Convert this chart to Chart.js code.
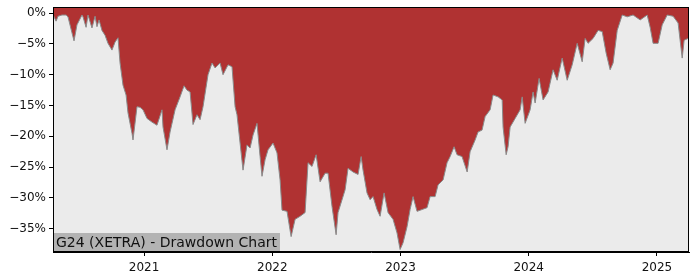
<!DOCTYPE html>
<html>
<head>
<meta charset="utf-8">
<script src="https://cdn.jsdelivr.net/npm/chart.js@4"></script>
<style>
  html, body { margin: 0; padding: 0; background: #fff; }
  #wrap { width: 700px; height: 280px; }
</style>
</head>
<body>
<div id="wrap"><canvas id="ddChart" width="700" height="280"></canvas></div>
<script>
// decimal years
let years = [
  2020.292, 2020.314, 2020.329, 2020.360, 2020.392, 2020.407, 2020.438, 2020.454, 2020.477, 2020.516,
  2020.524, 2020.548, 2020.563, 2020.594, 2020.618, 2020.633, 2020.649, 2020.672, 2020.696, 2020.719,
  2020.750, 2020.774, 2020.797, 2020.813, 2020.836, 2020.860, 2020.875, 2020.906, 2020.914, 2020.945,
  2020.969, 2020.992, 2021.023, 2021.062, 2021.101, 2021.140, 2021.148, 2021.179, 2021.203, 2021.242,
  2021.281, 2021.312, 2021.335, 2021.359, 2021.382, 2021.413, 2021.437, 2021.460, 2021.499, 2021.530,
  2021.554, 2021.593, 2021.616, 2021.655, 2021.686, 2021.710, 2021.725, 2021.749, 2021.772, 2021.803,
  2021.827, 2021.850, 2021.881, 2021.905, 2021.920, 2021.944, 2021.967, 2022.006, 2022.037, 2022.061,
  2022.076, 2022.115, 2022.147, 2022.178, 2022.217, 2022.256, 2022.279, 2022.310, 2022.342, 2022.373,
  2022.412, 2022.435, 2022.466, 2022.498, 2022.513, 2022.568, 2022.591, 2022.630, 2022.669, 2022.693,
  2022.708, 2022.739, 2022.763, 2022.786, 2022.817, 2022.841, 2022.872, 2022.903, 2022.942, 2022.973,
  2022.997, 2023.020, 2023.051, 2023.075, 2023.098, 2023.129, 2023.168, 2023.207, 2023.231, 2023.270,
  2023.293, 2023.332, 2023.363, 2023.387, 2023.418, 2023.441, 2023.480, 2023.520, 2023.543, 2023.582,
  2023.605, 2023.636, 2023.660, 2023.699, 2023.722, 2023.761, 2023.793, 2023.800, 2023.824, 2023.839,
  2023.855, 2023.894, 2023.933, 2023.949, 2023.972, 2024.011, 2024.034, 2024.050, 2024.081, 2024.112,
  2024.151, 2024.190, 2024.222, 2024.261, 2024.300, 2024.339, 2024.378, 2024.417, 2024.440, 2024.463,
  2024.502, 2024.541, 2024.573, 2024.604, 2024.635, 2024.658, 2024.690, 2024.729, 2024.768, 2024.814,
  2024.869, 2024.924, 2024.947, 2024.970, 2025.009, 2025.041, 2025.080, 2025.126, 2025.165, 2025.197,
  2025.212, 2025.243
];

// drawdown in percent
let drawdown = [
  -0.3, -1.3, -0.5, -0.3, -0.3, -0.6, -3.2, -4.5, -1.9, -0.3,
  -0.6, -2.3, -0.3, -2.4, -0.5, -2.2, -1.1, -2.8, -3.6, -4.9,
  -6.0, -4.7, -4.0, -8.1, -11.7, -13.3, -16.2, -19.5, -20.6, -15.2,
  -15.3, -15.7, -17.1, -17.7, -18.2, -15.7, -18.5, -22.2, -19.3, -15.7,
  -13.6, -11.8, -12.5, -12.8, -18.1, -16.5, -17.3, -15.2, -10.0, -8.1,
  -8.9, -8.1, -10.0, -8.4, -8.7, -15.2, -16.5, -21.1, -25.5, -21.4,
  -21.9, -19.8, -17.9, -23.3, -26.5, -23.8, -22.2, -21.1, -22.7, -27.1,
  -32.0, -32.2, -36.3, -33.5, -33.0, -32.4, -24.3, -24.9, -23.0, -27.4,
  -26.0, -26.0, -31.4, -36.0, -32.4, -28.7, -25.2, -25.8, -26.2, -23.3,
  -25.5, -29.2, -30.3, -29.8, -31.9, -33.0, -29.2, -32.4, -33.5, -35.7,
  -38.4, -37.3, -34.7, -31.9, -29.8, -32.2, -31.9, -31.6, -29.8, -29.8,
  -27.9, -27.1, -24.3, -23.3, -21.7, -23.0, -23.3, -25.8, -22.5, -20.6,
  -19.3, -19.0, -16.8, -15.7, -13.3, -13.6, -14.1, -18.5, -23.0, -21.7,
  -18.5, -17.1, -15.7, -13.6, -17.9, -15.7, -12.8, -14.6, -10.6, -14.1,
  -12.8, -9.2, -10.9, -7.3, -10.9, -8.4, -4.9, -7.9, -4.1, -4.9,
  -4.1, -2.8, -3.0, -6.5, -9.2, -8.1, -2.8, -0.3, -0.6, -0.3,
  -1.1, -0.3, -2.3, -4.9, -4.9, -1.9, -0.3, -0.5, -1.6, -7.3,
  -4.4, -4.1
];

let yTicks = [0, -5, -10, -15, -20, -25, -30, -35];
let xTicks = [2021, 2022, 2023, 2024, 2025];
let title = "G24 (XETRA) - Drawdown Chart";

const font = { family: "DejaVu Sans", size: 12 };

const frame = {
  id: "frame",
  beforeDatasetsDraw(chart) {
    const { ctx, chartArea: a } = chart;
    ctx.save();
    ctx.fillStyle = "#ebebeb";
    ctx.fillRect(a.left, a.top, a.right - a.left, a.bottom - a.top);
    ctx.restore();
  },
  afterDatasetsDraw(chart) {
    const { ctx, chartArea: a } = chart;
    ctx.save();
    // title box in the lower left corner
    ctx.font = "14px 'DejaVu Sans'";
    let w = ctx.measureText(title).width;
    ctx.fillStyle = "#b3b3b3";
    ctx.fillRect(a.left, a.bottom - 19, w + 6, 19);
    ctx.fillStyle = "#111";
    ctx.textBaseline = "middle";
    ctx.fillText(title, a.left + 3, a.bottom - 9);
    // box round the plot
    ctx.strokeStyle = "#000";
    ctx.lineWidth = 1;
    ctx.strokeRect(a.left + 0.5, a.top + 0.5, a.right - a.left - 1, a.bottom - a.top - 1);
    ctx.restore();
  },
};

new Chart(document.getElementById("ddChart"), {
  type: "line",
  data: {
    datasets: [
      {
        data: years.map((x, i) => ({ x: x, y: drawdown[i] })),
        borderColor: "#8a8a8a",
        borderWidth: 1,
        backgroundColor: "#b03232",
        fill: "end",
        pointRadius: 0,
        tension: 0,
      },
    ],
  },
  options: {
    responsive: false,
    animation: false,
    events: [],
    layout: { padding: { top: 7, right: 11, left: 0, bottom: 0 } },
    plugins: { legend: { display: false }, tooltip: { enabled: false } },
    scales: {
      x: {
        type: "linear",
        min: 2020.29,
        max: 2025.25,
        afterBuildTicks: (s) => { s.ticks = xTicks.map((v) => ({ value: v })); },
        afterFit: (s) => { s.height = 28; s.paddingLeft = 0; s.paddingRight = 0; },
        ticks: { color: "#111", font: font, padding: 5, maxRotation: 0, callback: (v) => String(v) },
        grid: { drawOnChartArea: false, tickLength: 4, color: "#000" },
        border: { display: true, color: "#000" },
      },
      y: {
        min: -38.8,
        max: 1.0,
        afterBuildTicks: (s) => { s.ticks = yTicks.map((v) => ({ value: v })); },
        afterFit: (s) => { s.width = 53; s.paddingTop = 0; s.paddingBottom = 0; },
        ticks: {
          color: "#111",
          font: font,
          padding: 3,
          callback: (v) => (v < 0 ? "\u2212" + Math.abs(v) : v) + "%",
        },
        grid: { drawOnChartArea: false, tickLength: 4, color: "#000" },
        border: { display: true, color: "#000" },
      },
    },
  },
  plugins: [frame],
});
</script>
</body>
</html>
